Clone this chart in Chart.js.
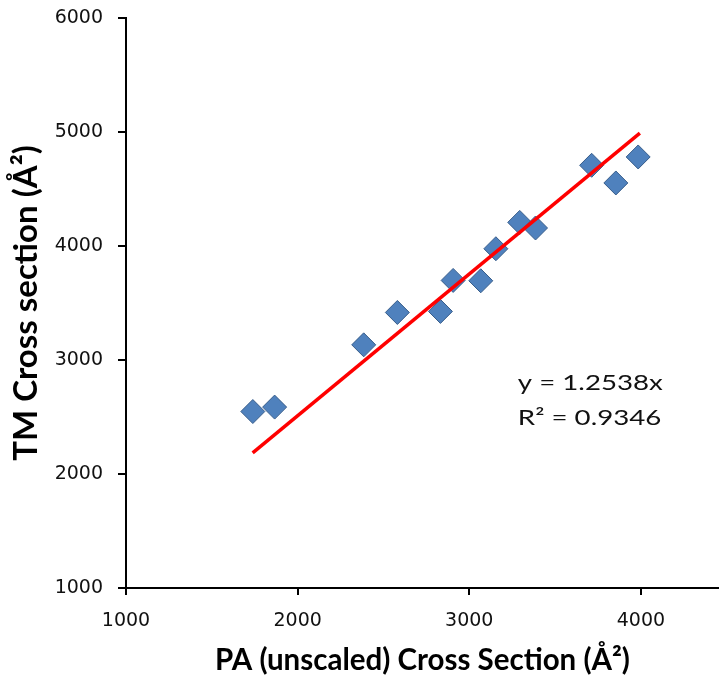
<!DOCTYPE html>
<html>
<head>
<meta charset="utf-8">
<script src="https://cdn.jsdelivr.net/npm/chart.js@4.4.1/dist/chart.umd.min.js"></script>
<style>
    html, body { margin: 0; padding: 0; background: #fff; }
    #wrap { width: 719px; height: 679px; }
</style>
</head>
<body>
<div id="wrap"><canvas id="cross-chart" width="719" height="679"></canvas></div>
<script>
const paX = [1739, 1866, 2385, 2581, 2832, 2906, 3067, 3155, 3294, 3386, 3713, 3854, 3984];
const tmY = [2548, 2587, 3133, 3417, 3426, 3698, 3695, 3976, 4207, 4158, 4708, 4553, 4781];
const trendX = [1738, 3994];
const trendY = [2185, 4990];
const xTicks = [1000, 2000, 3000, 4000];
const yTicks = [1000, 2000, 3000, 4000, 5000, 6000];
const equationLines = ['y = 1.2538x', 'R² = 0.9346'];
const equationAt = { x: 3283, y: 2738 };

const points = paX.map((x, i) => ({ x: x, y: tmY[i] }));
const trend = trendX.map((x, i) => ({ x: x, y: trendY[i] }));

const equationLabel = {
    id: 'equationLabel',
    afterDatasetsDraw(chart) {
        const ctx = chart.ctx;
        const left = chart.scales.x.getPixelForValue(equationAt.x);
        const base = chart.scales.y.getPixelForValue(equationAt.y);
        ctx.save();
        ctx.font = '22px Lato';
        ctx.fillStyle = '#111';
        ctx.textBaseline = 'alphabetic';
        const sx = 145 / ctx.measureText(equationLines[0]).width;
        equationLines.forEach((line, i) => {
            ctx.save();
            ctx.translate(left, base + i * 35);
            ctx.scale(sx, 1);
            ctx.fillText(line, 0, 0);
            ctx.restore();
        });
        ctx.restore();
    }
};

function axisTicks(values) {
    return function (scale) {
        scale.ticks = values.map(v => ({ value: v }));
    };
}

new Chart(document.getElementById('cross-chart'), {
    type: 'scatter',
    data: {
        datasets: [
            {
                label: 'trend',
                type: 'line',
                data: trend,
                borderColor: '#ff0000',
                borderWidth: 3.5,
                pointRadius: 0,
                fill: false
            },
            {
                label: 'cross section',
                data: points,
                pointStyle: 'rectRot',
                pointRadius: 12,
                pointHoverRadius: 12,
                backgroundColor: '#4f81bd',
                borderColor: '#385d8a',
                borderWidth: 1
            }
        ]
    },
    plugins: [equationLabel],
    options: {
        responsive: false,
        animation: false,
        layout: { autoPadding: false, padding: { top: 18, right: 0, left: 0, bottom: 0 } },
        plugins: {
            legend: { display: false },
            tooltip: { enabled: false }
        },
        scales: {
            x: {
                type: 'linear',
                min: 1000,
                max: 4455,
                afterBuildTicks: axisTicks(xTicks),
                afterFit(scale) {
                    scale.height = 91;
                    scale.paddingLeft = 0;
                    scale.paddingRight = 0;
                },
                border: { display: true, color: '#000', width: 2 },
                grid: { drawOnChartArea: false, drawTicks: true, tickLength: 7, color: '#000', lineWidth: 2 },
                ticks: {
                    color: '#111',
                    font: { family: 'DejaVu Sans', size: 19 },
                    padding: 15,
                    callback: v => String(v)
                },
                title: {
                    display: true,
                    text: 'PA (unscaled) Cross Section (Å²)',
                    color: '#000',
                    font: { family: 'Lato', size: 29.5, weight: 'bold' },
                    padding: { top: 0, bottom: 1 }
                }
            },
            y: {
                type: 'linear',
                min: 1000,
                max: 6000,
                afterBuildTicks: axisTicks(yTicks),
                afterFit(scale) {
                    scale.width = 126;
                    scale.paddingTop = 0;
                    scale.paddingBottom = 0;
                },
                border: { display: true, color: '#000', width: 2 },
                grid: { drawOnChartArea: false, drawTicks: true, tickLength: 8, color: '#000', lineWidth: 2 },
                ticks: {
                    color: '#111',
                    font: { family: 'DejaVu Sans', size: 19 },
                    padding: 15,
                    callback: v => String(v)
                },
                title: {
                    display: true,
                    text: 'TM Cross section (Å²)',
                    color: '#000',
                    font: { family: 'Lato', size: 33, weight: 'bold' },
                    padding: { top: 7, bottom: 0 }
                }
            }
        }
    }
});
</script>
</body>
</html>
